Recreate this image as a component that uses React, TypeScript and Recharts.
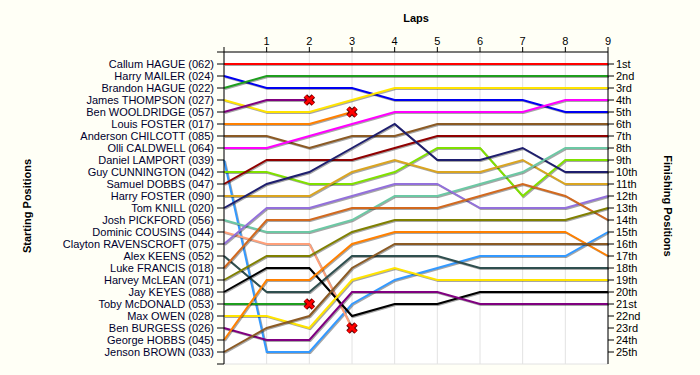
import React from 'react';
import { LineChart, Line, XAxis, YAxis, CartesianGrid, Label } from 'recharts';

const laps = [0, 1, 2, 3, 4, 5, 6, 7, 8, 9];
const lapTicks = [0, 1, 2, 3, 4, 5, 6, 7, 8, 9];
const positionTicks = [0, 1, 2, 3, 4, 5, 6, 7, 8, 9, 10, 11, 12, 13, 14, 15, 16, 17, 18, 19, 20, 21, 22, 23, 24, 25, 26];

const startingNames = [
  'Callum HAGUE (062)', 'Harry MAILER (024)', 'Brandon HAGUE (022)', 'James THOMPSON (027)',
  'Ben WOOLDRIDGE (057)', 'Louis FOSTER (017)', 'Anderson CHILCOTT (085)', 'Olli CALDWELL (064)',
  'Daniel LAMPORT (039)', 'Guy CUNNINGTON (042)', 'Samuel DOBBS (047)', 'Harry FOSTER (090)',
  'Tom KNILL (020)', 'Josh PICKFORD (056)', 'Dominic COUSINS (044)', 'Clayton RAVENSCROFT (075)',
  'Alex KEENS (052)', 'Luke FRANCIS (018)', 'Harvey McLEAN (071)', 'Jay KEYES (088)',
  'Toby McDONALD (053)', 'Max OWEN (028)', 'Ben BURGESS (026)', 'George HOBBS (045)', 'Jenson BROWN (033)',
];

const finishLabels = [
  '1st', '2nd', '3rd', '4th', '5th', '6th', '7th', '8th', '9th', '10th', '11th', '12th', '13th',
  '14th', '15th', '16th', '17th', '18th', '19th', '20th', '21st', '22nd', '23rd', '24th', '25th',
];

const driverColors = [
  '#FF0000', '#0000F0', '#1E9E1E', '#FFE400', '#800080', '#FF8000', '#8B5A24', '#FF00FF',
  '#3399FF', '#80E000', '#900000', '#DAA520', '#1E1E6E', '#6CC8A4', '#FFA07A', '#9370DB',
  '#2F4F4F', '#D2691E', '#808000', '#000000', '#1E9E1E', '#FFE400', '#800080', '#FF8000', '#8B5A24',
];

// positions per lap (lap 0 = grid). Shorter arrays = retired (red cross at last point)
const callumHague = [1, 1, 1, 1, 1, 1, 1, 1, 1, 1];
const harryMailer = [2, 3, 3, 3, 4, 4, 4, 4, 5, 5];
const brandonHague = [3, 2, 2, 2, 2, 2, 2, 2, 2, 2];
const jamesThompson = [4, 5, 5, 4, 3, 3, 3, 3, 3, 3];
const benWooldridge = [5, 4, 4];
const louisFoster = [6, 6, 6, 5];
const andersonChilcott = [7, 7, 8, 7, 7, 6, 6, 6, 6, 6];
const olliCaldwell = [8, 8, 7, 6, 5, 5, 5, 5, 4, 4];
const danielLamport = [9, 25, 25, 21, 19, 18, 17, 17, 17, 15];
const guyCunnington = [10, 10, 11, 11, 10, 8, 8, 12, 9, 9];
const samuelDobbs = [11, 9, 9, 9, 8, 7, 7, 7, 7, 7];
const harryFoster = [12, 12, 12, 10, 9, 10, 10, 9, 11, 11];
const tomKnill = [13, 11, 10, 8, 6, 9, 9, 8, 10, 10];
const joshPickford = [14, 15, 15, 14, 12, 12, 11, 10, 8, 8];
const dominicCousins = [15, 16, 16, 23];
const claytonRavenscroft = [16, 13, 13, 12, 11, 11, 13, 13, 13, 12];
const alexKeens = [17, 20, 20, 17, 17, 17, 18, 18, 18, 18];
const lukeFrancis = [18, 14, 14, 13, 13, 13, 12, 11, 12, 14];
const harveyMclean = [19, 17, 17, 15, 14, 14, 14, 14, 14, 13];
const jayKeyes = [20, 18, 18, 22, 21, 21, 20, 20, 20, 20];
const tobyMcdonald = [21, 21, 21];
const maxOwen = [22, 22, 23, 19, 18, 19, 19, 19, 19, 19];
const benBurgess = [23, 24, 24, 20, 20, 20, 21, 21, 21, 21];
const georgeHobbs = [24, 19, 19, 16, 15, 15, 15, 15, 15, 17];
const jensonBrown = [25, 23, 22, 18, 16, 16, 16, 16, 16, 16];

const driverPositions = [
  callumHague, harryMailer, brandonHague, jamesThompson, benWooldridge, louisFoster,
  andersonChilcott, olliCaldwell, danielLamport, guyCunnington, samuelDobbs, harryFoster,
  tomKnill, joshPickford, dominicCousins, claytonRavenscroft, alexKeens, lukeFrancis,
  harveyMclean, jayKeyes, tobyMcdonald, maxOwen, benBurgess, georgeHobbs, jensonBrown,
];

const chartData = laps.map((lap, i) => {
  const row: Record<string, number | null> = { lap };
  driverPositions.forEach((arr, d) => {
    row['d' + d] = i < arr.length ? arr[i] : null;
  });
  return row;
});

const FONT = '"Liberation Sans", Arial, sans-serif';

const makeDot = (d: number) => (props: any) => {
  const arr = driverPositions[d];
  const retired = arr.length < laps.length;
  const { cx, cy, index } = props;
  if (!retired || index !== arr.length - 1 || cx == null || cy == null) {
    return <g key={`dot-${d}-${index}`} />;
  }
  const s = 4;
  return (
    <g key={`dot-${d}-${index}`}>
      <line x1={cx - s} y1={cy - s} x2={cx + s} y2={cy + s} stroke="#5a0000" strokeWidth={5} />
      <line x1={cx - s} y1={cy + s} x2={cx + s} y2={cy - s} stroke="#5a0000" strokeWidth={5} />
      <line x1={cx - s} y1={cy - s} x2={cx + s} y2={cy + s} stroke="#FF0000" strokeWidth={3} />
      <line x1={cx - s} y1={cy + s} x2={cx + s} y2={cy - s} stroke="#FF0000" strokeWidth={3} />
    </g>
  );
};

export default function App() {
  return (
    <div style={{ position: 'absolute', left: 0, top: 0, width: 700, height: 375, background: '#FFFFF6' }}>
      <style>{`.recharts-line-curve{filter:drop-shadow(1px 1.5px 0.4px rgba(0,0,0,0.35));}`}</style>
      <LineChart
        width={700}
        height={375}
        data={chartData}
        margin={{ top: 22, right: 0, bottom: 11, left: 0 }}
        style={{ fontFamily: FONT }}
      >
        <CartesianGrid stroke="#E2E2E2" fill="#FFFFFF" />
        <XAxis
          dataKey="lap"
          type="number"
          orientation="top"
          domain={[0, 9]}
          ticks={lapTicks}
          height={30}
          tickSize={5}
          tickMargin={2}
          tickFormatter={(v: number) => (v === 0 ? '' : String(v))}
          tick={{ fontSize: 11, fill: '#000' }}
          axisLine={{ stroke: '#000' }}
          tickLine={{ stroke: '#000' }}
          interval={0}
        >
          <Label
            content={() => (
              <text x={416} y={22} textAnchor="middle" fontSize={11} fontWeight="bold" fill="#000" fontFamily={FONT}>
                Laps
              </text>
            )}
          />
        </XAxis>
        <YAxis
          yAxisId="left"
          type="number"
          domain={[0, 26]}
          reversed
          ticks={positionTicks}
          interval={0}
          width={224}
          tickSize={7}
          tickMargin={3}
          tickFormatter={(v: number) => startingNames[v - 1] ?? ''}
          tick={{ fontSize: 11, fill: '#00002E' }}
          axisLine={{ stroke: '#000' }}
          tickLine={{ stroke: '#000' }}
          allowDataOverflow
        >
          <Label
            content={() => (
              <text
                x={31}
                y={206}
                textAnchor="middle"
                fontSize={11}
                fontWeight="bold"
                fill="#000"
                fontFamily={FONT}
                transform="rotate(-90 31 206)"
              >
                Starting Positions
              </text>
            )}
          />
        </YAxis>
        <YAxis
          yAxisId="right"
          orientation="right"
          type="number"
          domain={[0, 26]}
          reversed
          ticks={positionTicks.slice(1, 26)}
          interval={0}
          width={92}
          tickSize={6}
          tickMargin={2}
          tickFormatter={(v: number) => finishLabels[v - 1] ?? ''}
          tick={{ fontSize: 11, fill: '#000' }}
          axisLine={{ stroke: '#000' }}
          tickLine={{ stroke: '#000' }}
          allowDataOverflow
        >
          <Label
            content={() => (
              <text
                x={664}
                y={206}
                textAnchor="middle"
                fontSize={11}
                fontWeight="bold"
                fill="#000"
                fontFamily={FONT}
                transform="rotate(90 664 206)"
              >
                Finishing Positions
              </text>
            )}
          />
        </YAxis>
        {driverPositions.map((_, d) => (
          <Line
            key={d}
            yAxisId="left"
            type="linear"
            dataKey={'d' + d}
            name={startingNames[d]}
            stroke={driverColors[d]}
            strokeWidth={2}
            dot={makeDot(d)}
            activeDot={false}
            connectNulls={false}
            isAnimationActive={false}
          />
        ))}
      </LineChart>
    </div>
  );
}
